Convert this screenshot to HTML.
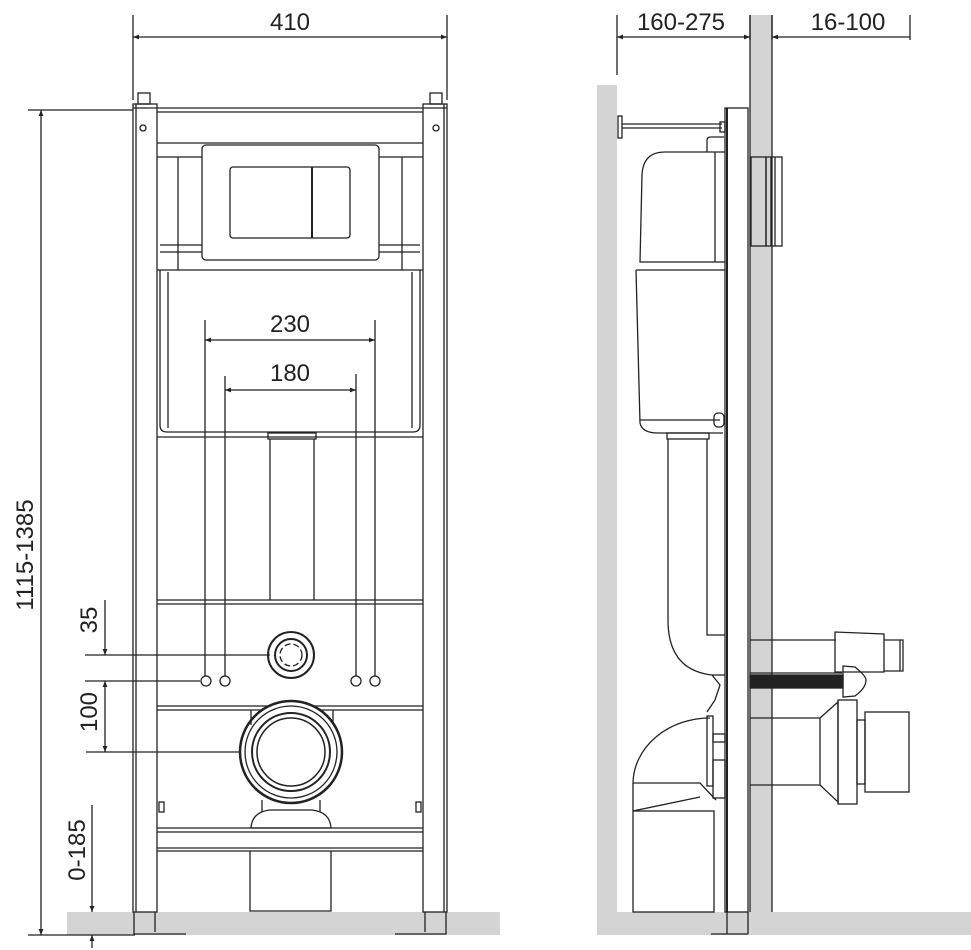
<!DOCTYPE html>
<html><head><meta charset="utf-8"><style>body{margin:0;background:#fff}svg{display:block}</style></head><body>
<svg width="971" height="950" viewBox="0 0 971 950" xmlns="http://www.w3.org/2000/svg" font-family="Liberation Sans, sans-serif">
<defs>
<marker id="a" viewBox="0 0 10 10" refX="10" refY="5" markerWidth="10" markerHeight="6" orient="auto-start-reverse" markerUnits="userSpaceOnUse"><path d="M0,1 L10,5 L0,9 z" fill="#222"/></marker>
</defs>
<rect x="67" y="912" width="433" height="23" fill="#d4d4d4"/>
<rect x="597" y="85" width="20" height="850" fill="#d4d4d4"/>
<rect x="597" y="912" width="374" height="23" fill="#d4d4d4"/>
<rect x="750" y="15" width="22" height="897" fill="#d4d4d4"/>
<g fill="none" stroke="#222" stroke-width="1.3">
<line x1="133" y1="15" x2="133" y2="100"/><line x1="447" y1="15" x2="447" y2="100"/>
<line x1="133" y1="37" x2="447" y2="37" marker-start="url(#a)" marker-end="url(#a)"/>
<line x1="41" y1="110" x2="41" y2="935" marker-start="url(#a)" marker-end="url(#a)"/>
<line x1="28" y1="110" x2="133" y2="110"/><line x1="28" y1="935" x2="135" y2="935"/>
<line x1="105" y1="600" x2="105" y2="655" marker-end="url(#a)"/>
<line x1="105" y1="681" x2="105" y2="752" marker-start="url(#a)" marker-end="url(#a)"/>
<line x1="85" y1="655" x2="270" y2="655"/><line x1="85" y1="681" x2="200" y2="681"/><line x1="86" y1="752" x2="290" y2="752"/>
<line x1="92" y1="805" x2="92" y2="912" marker-end="url(#a)"/>
<line x1="92" y1="948" x2="92" y2="935" marker-end="url(#a)"/>
<rect x="133" y="104" width="24" height="808"/><line x1="136" y1="104" x2="136" y2="912"/>
<rect x="423" y="104" width="24" height="808"/><line x1="444" y1="104" x2="444" y2="912"/>
<path d="M134 912 V934 H186 M155 912 V932"/><path d="M446 912 V934 H395 M425 912 V932"/>
<rect x="138" y="93" width="12" height="11"/><rect x="430" y="93" width="12" height="11"/>
<circle cx="143" cy="128" r="3"/><circle cx="436" cy="128" r="3"/>
<line x1="133" y1="108" x2="447" y2="108"/><line x1="157" y1="112" x2="423" y2="112"/>
<line x1="157" y1="143" x2="423" y2="143"/>
<line x1="157" y1="157" x2="423" y2="157"/>
<line x1="160" y1="245" x2="420" y2="245"/><line x1="160" y1="252" x2="420" y2="252"/>
<line x1="178" y1="157" x2="178" y2="270"/><line x1="402" y1="157" x2="402" y2="270"/>
<rect x="202" y="145" width="177" height="115" rx="4" fill="#fff"/>
<rect x="230" y="167" width="120" height="71" rx="3"/>
<line x1="312" y1="167" x2="312" y2="238" stroke-width="2"/>
<line x1="157" y1="270" x2="423" y2="270"/>
<path d="M160 270 V425 Q160 432 167 432 H413 Q420 432 420 425 V270"/>
<path d="M168 272 V428 M412 272 V428"/>
<line x1="157" y1="437" x2="423" y2="437"/>
<line x1="205" y1="320" x2="205" y2="676"/><line x1="375" y1="320" x2="375" y2="676"/>
<line x1="225" y1="376" x2="225" y2="676"/><line x1="356" y1="374" x2="356" y2="676"/>
<line x1="205" y1="340" x2="375" y2="340" marker-start="url(#a)" marker-end="url(#a)"/>
<line x1="225" y1="390" x2="356" y2="390" marker-start="url(#a)" marker-end="url(#a)"/>
<rect x="268" y="433" width="48" height="6"/>
<line x1="270" y1="439" x2="270" y2="600"/><line x1="314" y1="439" x2="314" y2="600"/>
<line x1="157" y1="600" x2="423" y2="600"/><line x1="157" y1="604" x2="423" y2="604"/>
<line x1="157" y1="706" x2="423" y2="706"/><line x1="157" y1="710" x2="423" y2="710"/>
<circle cx="291" cy="655" r="23" stroke-width="2"/><circle cx="291" cy="655" r="16" stroke-width="2"/>
<circle cx="291" cy="655" r="11" stroke-dasharray="6 3"/>
<circle cx="206" cy="681" r="5"/><circle cx="225" cy="681" r="5"/><circle cx="356" cy="681" r="5"/><circle cx="375" cy="681" r="5"/>
<circle cx="291" cy="752" r="51" stroke-width="2.5" fill="#fff"/><circle cx="291" cy="752" r="46"/>
<circle cx="291" cy="752" r="39" stroke-width="2"/><circle cx="291" cy="752" r="34" stroke-width="1.5"/>
<line x1="251" y1="710" x2="251" y2="725"/><line x1="333" y1="710" x2="333" y2="725"/>
<line x1="262" y1="800" x2="262" y2="812"/><line x1="320" y1="800" x2="320" y2="812"/>
<path d="M251 828 Q252 812 270 810 H312 Q330 812 331 828 Z"/>
<line x1="157" y1="828" x2="423" y2="828"/><line x1="157" y1="832" x2="423" y2="832"/>
<line x1="157" y1="848" x2="423" y2="848"/><line x1="157" y1="851" x2="423" y2="851"/>
<path d="M250 851 V911 H331 V851"/>
<rect x="159" y="802" width="5" height="10"/><rect x="416" y="802" width="5" height="10"/>
<!-- SIDE VIEW -->
<line x1="617" y1="15" x2="617" y2="75"/><line x1="750" y1="15" x2="750" y2="40"/><line x1="772" y1="15" x2="772" y2="40"/><line x1="910" y1="15" x2="910" y2="40"/>
<line x1="617" y1="37" x2="750" y2="37" marker-start="url(#a)" marker-end="url(#a)"/>
<line x1="910" y1="37" x2="772" y2="37" marker-end="url(#a)"/>
<line x1="750" y1="15" x2="750" y2="912"/><line x1="772" y1="15" x2="772" y2="912"/>
<rect x="725" y="108" width="23" height="804"/><line x1="727" y1="108" x2="727" y2="912" stroke-width="2"/>
<path d="M727 912 V934 M748 912 V934 M711 934 H748"/>
<rect x="618" y="116" width="4" height="22"/><line x1="622" y1="124" x2="722" y2="124"/><line x1="622" y1="128" x2="722" y2="128"/>
<rect x="720" y="122" width="5" height="10"/>
<path d="M707 152 V140 Q707 137 711 137 H724"/>
<path d="M725 152 H665 Q643 152 642 175 L640 262 H725"/>
<line x1="715" y1="152" x2="715" y2="262"/>
<path d="M636 270 L640 423 Q642 433 658 433 H723 M636 270 H725"/>
<line x1="640" y1="420" x2="720" y2="420"/>
<rect x="714" y="413" width="10" height="14" rx="4"/>
<rect x="667" y="433" width="42" height="6"/>
<rect x="751" y="157" width="15" height="89"/>
<rect x="766" y="157" width="16" height="89"/>
<line x1="771" y1="157" x2="771" y2="246"/><line x1="775" y1="157" x2="775" y2="246"/>
<path d="M668 439 V620 Q668 670 712 675 H725"/>
<path d="M707 439 V635 H725"/>
<path d="M712 675 L720 685 L715 700 L707 712"/>
<path d="M633 783 A77 66 0 0 1 710 718"/>
<rect x="707" y="716" width="6" height="70"/>
<rect x="713" y="734" width="12" height="8"/>
<rect x="713" y="760" width="12" height="38"/>
<path d="M633 783 V811 M633 783 H700 L716 800 M633 811 L700 797"/>
<rect x="633" y="811" width="81" height="101"/>
<line x1="750" y1="640" x2="836" y2="640"/><line x1="750" y1="673" x2="842" y2="673"/>
<path d="M835 632 V672 H884 V634 Z"/>
<path d="M884 640 H903 V671 H884"/><line x1="900" y1="640" x2="900" y2="671"/>
<rect x="750" y="675" width="93" height="13" fill="#222"/>
<path d="M843 666 L855 667 Q866 676 866 680 Q866 688 855 696 L843 697 Z"/>
<line x1="750" y1="718" x2="820" y2="718"/><line x1="750" y1="785" x2="820" y2="785"/>
<path d="M820 718 L838 702 V802 L820 785 Z"/>
<rect x="838" y="700" width="19" height="104"/>
<rect x="857" y="720" width="8" height="64"/>
<rect x="865" y="712" width="44" height="80"/>
</g>
<g fill="#222" font-size="24">
<text x="290" y="30" text-anchor="middle">410</text>
<text x="290" y="332" text-anchor="middle">230</text>
<text x="290" y="381" text-anchor="middle">180</text>
<text x="681" y="30" text-anchor="middle">160-275</text>
<text x="848" y="30" text-anchor="middle">16-100</text>
<text transform="translate(33,555) rotate(-90)" text-anchor="middle">1115-1385</text>
<text transform="translate(97,620) rotate(-90)" text-anchor="middle">35</text>
<text transform="translate(97,712) rotate(-90)" text-anchor="middle">100</text>
<text transform="translate(85,850) rotate(-90)" text-anchor="middle">0-185</text>
</g>
</svg>
</body></html>
